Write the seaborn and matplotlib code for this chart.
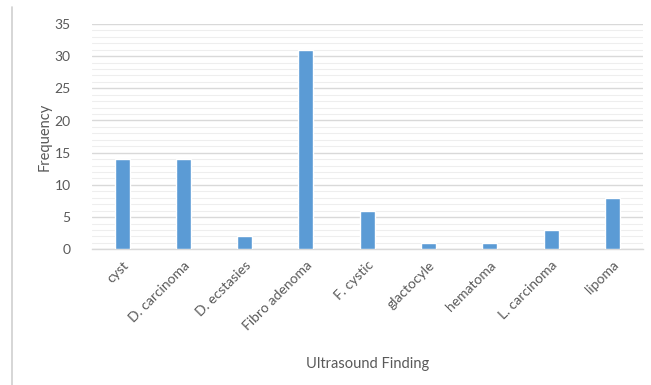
import matplotlib
matplotlib.use("Agg")
import matplotlib.pyplot as plt
from matplotlib.ticker import MultipleLocator
from matplotlib.lines import Line2D
import seaborn as sns
import pandas as pd

findings = ["cyst", "D. carcinoma", "D. ecstasies", "Fibro adenoma", "F. cystic",
            "glactocyle", "hematoma", "L. carcinoma", "lipoma"]
frequency = [14, 14, 2, 31, 6, 1, 1, 3, 8]

df = pd.DataFrame({"finding": findings, "frequency": frequency})

sns.set_theme(style="white")
plt.rcParams["font.family"] = ["Lato", "DejaVu Sans"]

fig = plt.figure(figsize=(6.51, 3.85), dpi=100)
ax = fig.add_axes([91.5 / 651, 1 - 249.3 / 385, (643 - 91.5) / 651, (249.3 - 23.9) / 385])

sns.barplot(data=df, x="finding", y="frequency", color="#5B9BD5", width=0.245,
            saturation=1, ax=ax, zorder=3)

ax.set_ylim(0, 35)
ax.set_xlim(-0.5, len(findings) - 0.5)
ax.yaxis.set_major_locator(MultipleLocator(5))
ax.yaxis.set_minor_locator(MultipleLocator(1))
ax.grid(axis="y", which="major", color="#D9D9D9", linewidth=1.0, zorder=0)
ax.grid(axis="y", which="minor", color="#EEEEEE", linewidth=0.8, zorder=0)
ax.set_axisbelow(True)

for side in ["top", "right", "left"]:
    ax.spines[side].set_visible(False)
ax.spines["bottom"].set_color("#D9D9D9")
ax.spines["bottom"].set_linewidth(1.0)

ax.tick_params(axis="both", which="both", length=0, colors="#595959", labelsize=10)
ax.tick_params(axis="y", pad=15)
ax.tick_params(axis="x", pad=7)
plt.setp(ax.get_xticklabels(), rotation=45, ha="right", rotation_mode="anchor")

ax.set_xlabel("Ultrasound Finding", color="#595959", fontsize=10.5, labelpad=18)
ax.set_ylabel("Frequency", color="#595959", fontsize=10.5, labelpad=2)

# thin frame line on the left edge of the figure
fig.add_artist(Line2D([11.5 / 651, 11.5 / 651], [0, 1 - 7 / 385],
                      transform=fig.transFigure, color="#D0D0D0", linewidth=1.2))

fig.savefig("out.png", dpi=100)
